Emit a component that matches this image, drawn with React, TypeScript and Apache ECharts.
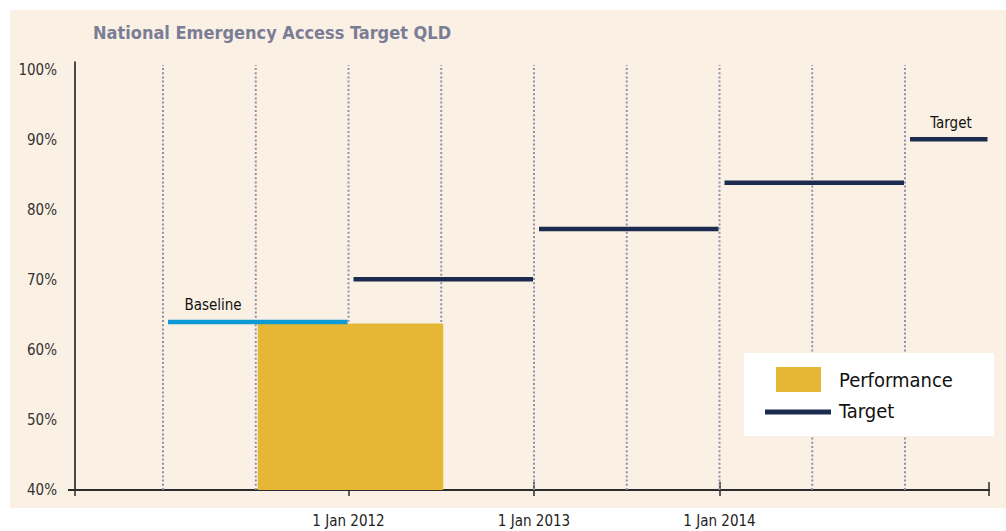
import React, { useEffect, useRef } from "react";
import * as echarts from "echarts";

// ---- data ----
const yTicks = [40, 50, 60, 70, 80, 90, 100];
const xTickYears = [2012, 2013, 2014];
const halfYearMarks = [2011, 2011.5, 2012, 2012.5, 2013, 2013.5, 2014, 2014.5, 2015];

const performanceStart = [2011.5];
const performanceEnd = [2012.5];
const performanceValues = [63.8];

const baselineStart = [2011.0];
const baselineEnd = [2012.0];
const baselineValues = [64.0];

const targetStart = [2012, 2013, 2014, 2015];
const targetEnd = [2013, 2014, 2015, 2015.45];
const targetValues = [70.1, 77.3, 83.9, 90.1];

const X_MIN = 2010.5256;
const X_MAX = 2015.4528;
const Y_MIN = 40;
const Y_MAX = 101.143;

const FONT = "'Liberation Sans Narrow', 'DejaVu Sans Condensed', 'Roboto', sans-serif";
const CREAM = "#FAF1E4";
const NAVY = "#1C2B50";
const GOLD = "#E5B735";
const BLUE = "#0E9AD5";
const DOT = "#8E91AB";

export default function App() {
  const ref = useRef<HTMLDivElement>(null);
  useEffect(() => {
    if (!ref.current) return;
    const chart = echarts.init(ref.current, undefined, { renderer: "svg" });

    const segRender = (color: string) => (params: any, api: any) => {
      const s = api.coord([api.value(0), api.value(2)]);
      const e = api.coord([api.value(1), api.value(2)]);
      return {
        type: "line",
        shape: { x1: s[0] + 5, y1: s[1], x2: e[0] - 1, y2: e[1] },
        style: { stroke: color, lineWidth: 4.5 },
      };
    };

    const option: any = {
      animation: false,
      backgroundColor: "#ffffff",
      textStyle: { fontFamily: FONT },
      title: {
        text: "National Emergency Access Target QLD",
        left: 88,
        top: 18,
        textStyle: { fontFamily: FONT, fontSize: 18, fontWeight: "bold", color: "#7B7D96" },
      },
      grid: { left: 75, right: 17, top: 62, bottom: 41 },
      xAxis: [
        {
          type: "value",
          min: X_MIN,
          max: X_MAX,
          splitLine: { show: false },
          axisLine: { show: true, onZero: false, lineStyle: { color: "#2b2b2b", width: 2 } },
          axisTick: {
            show: true,
            length: 6,
            customValues: [X_MIN, ...xTickYears, X_MAX],
            lineStyle: { color: "#2b2b2b", width: 1.5 },
          },
          axisLabel: {
            show: true,
            customValues: xTickYears,
            formatter: (v: number) => "1 Jan " + Math.round(v),
            margin: 23,
            fontSize: 15,
            color: "#222",
            fontFamily: FONT,
          },
        },
        {
          type: "value",
          min: X_MIN,
          max: X_MAX,
          position: "bottom",
          splitLine: { show: false },
          axisLine: { show: false, onZero: false },
          axisTick: {
            show: true,
            inside: true,
            length: 8,
            customValues: [...xTickYears, X_MAX],
            lineStyle: { color: "#2b2b2b", width: 1.5 },
          },
          axisLabel: { show: false },
        },
      ],
      yAxis: {
        type: "value",
        min: Y_MIN,
        max: Y_MAX,
        interval: 10,
        splitLine: { show: false },
        axisLine: { show: true, lineStyle: { color: "#111", width: 1.5 } },
        axisTick: { show: false },
        axisLabel: {
          margin: 18,
          fontSize: 15,
          color: "#333",
          fontFamily: FONT,
          formatter: (v: number) => {
            const r = Math.round(v / 10) * 10;
            return Math.abs(v - r) < 0.01 && yTicks.includes(r) ? r + "%" : "";
          },
        },
      },
      series: [
        {
          name: "grid-dots",
          type: "custom",
          silent: true,
          z: 1,
          data: halfYearMarks.map((x) => [x]),
          encode: { x: 0 },
          renderItem: (params: any, api: any) => {
            const p = api.coord([api.value(0), Y_MIN]);
            return {
              type: "line",
              shape: { x1: p[0], y1: p[1], x2: p[0], y2: params.coordSys.y + 3 },
              style: { stroke: DOT, lineWidth: 2, lineDash: [2, 2.2] },
            };
          },
        },
        {
          name: "Performance",
          type: "custom",
          z: 3,
          data: performanceValues.map((v, i) => [performanceStart[i], performanceEnd[i], v]),
          encode: { x: [0, 1], y: 2 },
          renderItem: (params: any, api: any) => {
            const p0 = api.coord([api.value(0), api.value(2)]);
            const p1 = api.coord([api.value(1), Y_MIN]);
            return {
              type: "rect",
              shape: { x: p0[0] + 2, y: p0[1], width: p1[0] - p0[0], height: p1[1] - p0[1] },
              style: { fill: GOLD },
            };
          },
        },
        {
          name: "Baseline",
          type: "custom",
          z: 4,
          data: baselineValues.map((v, i) => [baselineStart[i], baselineEnd[i], v]),
          encode: { x: [0, 1], y: 2 },
          renderItem: segRender(BLUE),
        },
        {
          name: "Target",
          type: "custom",
          z: 4,
          data: targetValues.map((v, i) => [targetStart[i], targetEnd[i], v]),
          encode: { x: [0, 1], y: 2 },
          renderItem: segRender(NAVY),
        },
      ],
      graphic: [
        {
          type: "rect",
          z: -100,
          silent: true,
          shape: { x: 10, y: 10, width: 996, height: 498 },
          style: { fill: CREAM },
        },
        {
          type: "line",
          z: 10,
          shape: { x1: 68, y1: 490, x2: 75, y2: 490 },
          style: { stroke: "#2b2b2b", lineWidth: 2 },
        },
        {
          type: "text",
          z: 10,
          x: 213,
          y: 305,
          style: { text: "Baseline", fill: "#111", font: `15px ${FONT}`, align: "center", verticalAlign: "middle" },
        },
        {
          type: "text",
          z: 10,
          x: 951,
          y: 123,
          style: { text: "Target", fill: "#111", font: `15px ${FONT}`, align: "center", verticalAlign: "middle" },
        },
        {
          type: "group",
          z: 100,
          children: [
            { type: "rect", z: 100, shape: { x: 744, y: 353, width: 250, height: 83 }, style: { fill: "#ffffff" } },
            { type: "rect", z: 101, shape: { x: 776, y: 367, width: 45, height: 25 }, style: { fill: GOLD } },
            { type: "line", z: 101, shape: { x1: 765, y1: 412, x2: 831, y2: 412 }, style: { stroke: NAVY, lineWidth: 5 } },
            {
              type: "text",
              z: 101,
              x: 839,
              y: 380,
              style: { text: "Performance", fill: "#111", font: `20px ${FONT}`, align: "left", verticalAlign: "middle" },
            },
            {
              type: "text",
              z: 101,
              x: 839,
              y: 411,
              style: { text: "Target", fill: "#111", font: `20px ${FONT}`, align: "left", verticalAlign: "middle" },
            },
          ],
        },
      ],
    };
    chart.setOption(option);
    return () => chart.dispose();
  }, []);
  return (
    <div
      ref={ref}
      style={{ position: "fixed", left: 0, top: 0, width: 1006, height: 531 }}
    />
  );
}
